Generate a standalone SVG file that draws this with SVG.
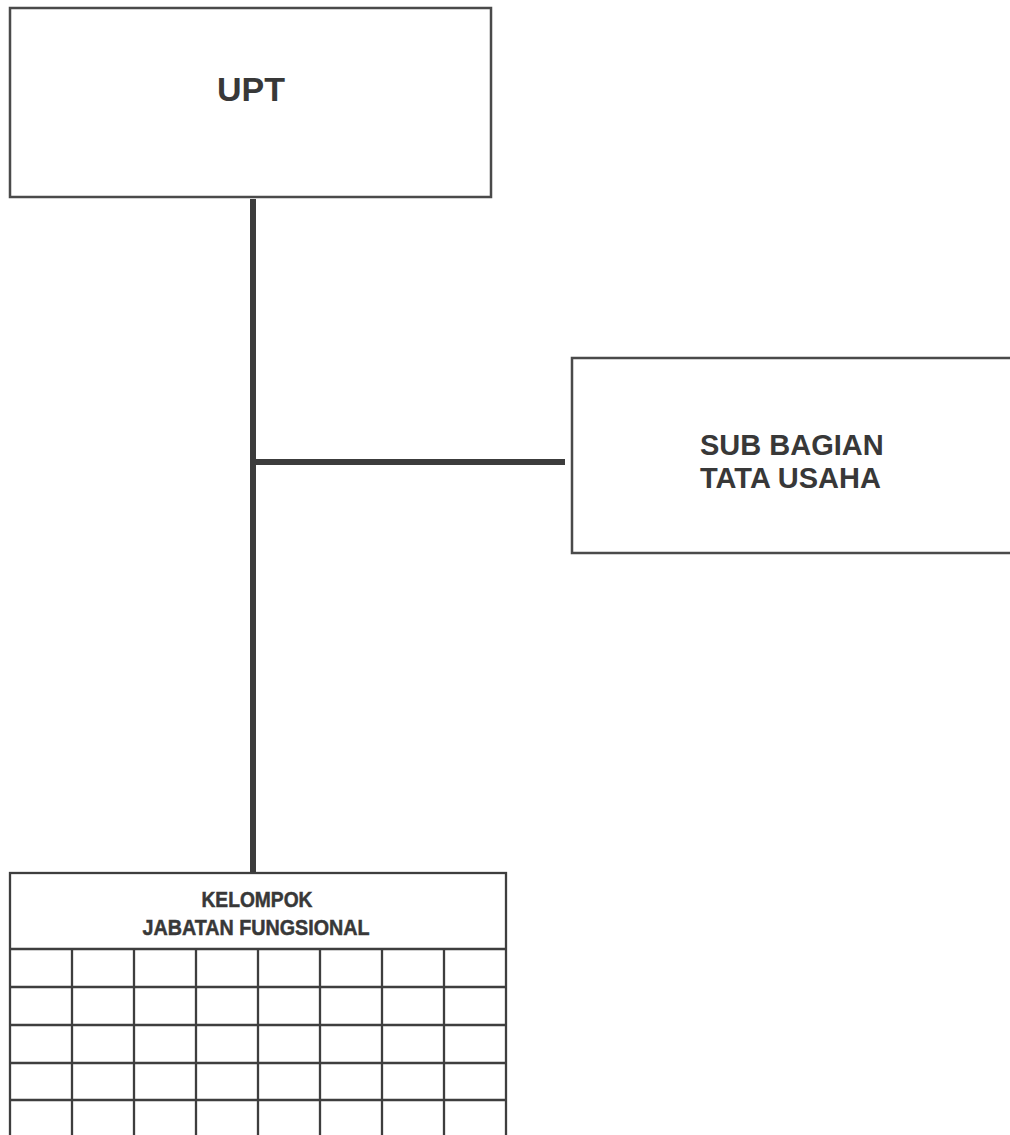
<svg xmlns="http://www.w3.org/2000/svg" width="1010" height="1135" viewBox="0 0 1010 1135">
<style>
.box{fill:none;stroke:#4a4a4a;stroke-width:2.5}
.grid{fill:none;stroke:#3e3e3e;stroke-width:2.3}
.conn{stroke:#3c3c3c;stroke-width:6;fill:none}
.t{font-family:"Liberation Sans",Arial,sans-serif;font-weight:bold;fill:#383838}
.s{stroke:#383838;stroke-width:0.5}
</style>
<rect width="1010" height="1135" fill="#ffffff"/>
<g id="connectors">
<line class="conn" x1="253" y1="199" x2="253" y2="873"/>
<line class="conn" x1="253" y1="462" x2="565" y2="462"/>
</g>
<g id="upt">
<rect class="box" x="10" y="8" width="481" height="189"/>
<text class="t" x="251" y="101" font-size="34" text-anchor="middle">UPT</text>
</g>
<g id="sub-bagian">
<rect class="box" x="572" y="358" width="450" height="195"/>
<text class="t" x="700" y="455" font-size="29">SUB BAGIAN</text>
<text class="t" x="700" y="488" font-size="29">TATA USAHA</text>
</g>
<g id="kelompok">
<rect class="grid" x="10" y="873" width="496" height="270"/>
<line class="grid" x1="10" y1="949" x2="506" y2="949"/>
<text class="t s" x="257" y="907" font-size="22" text-anchor="middle" textLength="111" lengthAdjust="spacingAndGlyphs">KELOMPOK</text>
<text class="t s" x="256" y="935" font-size="22" text-anchor="middle" textLength="227" lengthAdjust="spacingAndGlyphs">JABATAN FUNGSIONAL</text>
<path class="grid" d="M10 987H506M10 1025H506M10 1063H506M10 1100H506M72 949V1140M134 949V1140M196 949V1140M258 949V1140M320 949V1140M382 949V1140M444 949V1140"/>
</g>
</svg>
